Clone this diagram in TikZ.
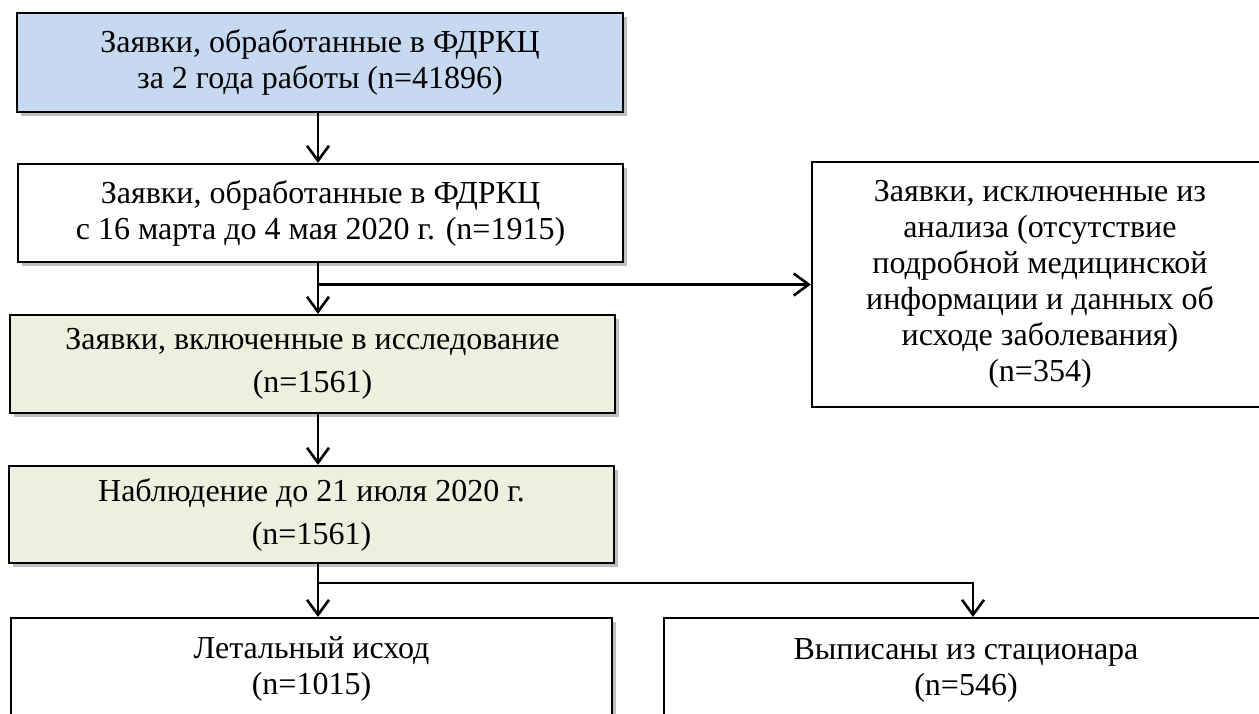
\documentclass[tikz,border=0pt]{standalone}
\usepackage{fontspec}
\setmainfont{Liberation Serif}
\usetikzlibrary{arrows.meta,shadows}
\definecolor{blackmain}{HTML}{000000}
\definecolor{blueacc}{HTML}{C6D9F1}
\definecolor{greenacc}{HTML}{EBF1DE}
\tikzset{
  flowbox/.style={draw=blackmain,line width=2.2pt,fill=white,align=center,inner sep=0pt,
    font=\fontsize{32}{36}\selectfont,
    drop shadow={shadow xshift=4pt,shadow yshift=-4pt,opacity=.25,fill=black}},
  plainbox/.style={draw=blackmain,line width=2.2pt,fill=white,align=center,inner sep=0pt,
    font=\fontsize{32}{36}\selectfont},
  arr/.style={draw=blackmain,line width=2.6pt,-{Straight Barb[length=15pt,width=22pt,line width=2.6pt]}},
}

\begin{document}
\begin{tikzpicture}[x=1pt,y=-1pt]
  \useasboundingbox (0,0) rectangle (1259,713);
  \clip (0,0) rectangle (1259,713);
  \coordinate (axis) at (318,0);
  \coordinate (fork) at (973,583);

  \node[flowbox,fill=blueacc,minimum width=606pt,minimum height=99pt] (total) at (320,62.5)
    {Заявки, обработанные в ФДРКЦ\\за 2 года работы (n=41896)};
  \node[flowbox,minimum width=605pt,minimum height=98pt] (period) at (320.5,213)
    {Заявки, обработанные в ФДРКЦ\\с 16 марта до 4 мая 2020 г. (n=1915)};
  \node[flowbox,fill=greenacc,minimum width=605pt,minimum height=98pt] (incl) at (312.5,364)
    {Заявки, включенные в исследование\\[7pt](n=1561)};
  \node[flowbox,fill=greenacc,minimum width=605pt,minimum height=97pt] (follow) at (311.5,514.5)
    {Наблюдение до 21 июля 2020 г.\\[7pt](n=1561)};
  \node[plainbox,minimum width=456pt,minimum height=245pt] (excl) at (1040,284.5)
    {Заявки, исключенные из\\анализа (отсутствие\\подробной медицинской\\информации и данных об\\исходе заболевания)\\(n=354)};
  \node[flowbox,anchor=north,minimum width=601pt,inner ysep=18pt,text depth=120pt] (death) at (311.5,617)
    {Летальный исход\\(n=1015)};
  \node[flowbox,anchor=north,minimum width=604pt,inner ysep=20pt,text depth=120pt] (disch) at (966,617)
    {Выписаны из стационара\\(n=546)};

  \draw[arr] (total.south -| axis) -- (period.north -| axis);
  \draw[arr] (period.south -| axis) -- (incl.north -| axis);
  \draw[arr] (excl.west -| axis) -- (excl.west);
  \draw[arr] (incl.south -| axis) -- (follow.north -| axis);
  \draw[arr] (follow.south -| axis) -- (death.north -| axis);
  \draw[arr] (follow.south -| axis) |- (fork) -- (fork |- disch.north);
\end{tikzpicture}
\end{document}
